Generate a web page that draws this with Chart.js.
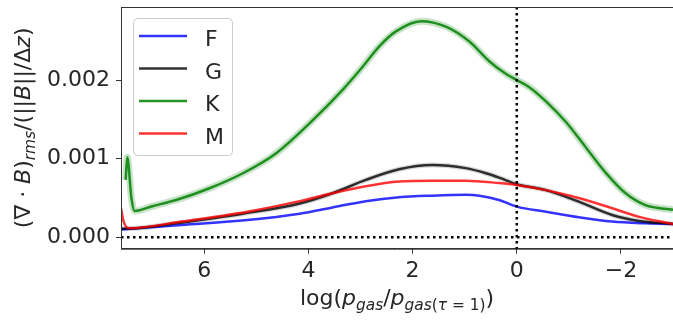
<!DOCTYPE html>
<html>
<head>
<meta charset="utf-8">
<script src="https://cdn.jsdelivr.net/npm/chart.js@4.4.1/dist/chart.umd.min.js"></script>
<style>
  body { margin: 0; background: #fff; }
  #wrap { width: 673px; height: 324px; }
</style>
</head>
<body>
<div id="wrap"><canvas id="myChart"></canvas></div>
<script>
// values (x = log(p_gas / p_gas(tau=1)))
const fX = [7.6, 6.44, 5.17, 4.17, 3.54, 2.90, 2.26, 1.62, 0.98, 0.72, 0.34, 0, -0.56, -1.19, -1.83, -2.47, -3.0];
const fY = [0.0001, 0.000157, 0.00022, 0.0003, 0.00038, 0.00046, 0.00051, 0.00053, 0.00054, 0.00053, 0.000475, 0.00039, 0.000326, 0.000255, 0.0002, 0.000178, 0.00017];

const gX = [7.58, 7.3, 6.54, 5.26, 4.17, 3.54, 2.90, 2.26, 1.62, 0.98, 0.59, 0.34, 0, -0.56, -1.19, -1.83, -2.35, -3.0];
const gY = [0.00011, 0.000115, 0.000178, 0.0003, 0.00043, 0.00056, 0.00073, 0.000866, 0.00092, 0.00088, 0.000815, 0.00076, 0.000675, 0.0006, 0.000453, 0.000284, 0.000208, 0.00017];

const kX = [7.51, 7.48, 7.40, 7.34, 7.0, 6.54, 5.90, 5.26, 4.62, 3.98, 3.34, 2.96, 2.64, 2.32, 1.84, 1.36, 0.91, 0.53, 0.21, 0, -0.24, -0.56, -0.94, -1.32, -1.71, -2.09, -2.47, -3.0];
const kY = [0.00073, 0.00102, 0.0005, 0.000335, 0.000395, 0.000475, 0.000624, 0.000815, 0.00107, 0.00145, 0.00188, 0.00217, 0.00243, 0.00262, 0.00275, 0.00268, 0.00249, 0.00224, 0.00208, 0.002, 0.00191, 0.00173, 0.00147, 0.00115, 0.00082, 0.00056, 0.00041, 0.00035];

const mX = [7.6, 7.55, 7.43, 6.44, 5.17, 4.17, 3.54, 2.90, 2.26, 1.62, 0.98, 0.34, 0, -0.56, -1.19, -1.83, -2.35, -3.0];
const mY = [0.00037, 0.0002, 0.000115, 0.0002, 0.000326, 0.00046, 0.00056, 0.00065, 0.00071, 0.00072, 0.00072, 0.00069, 0.000666, 0.0006, 0.0005, 0.00037, 0.00026, 0.00017];

const xTicks = [6, 4, 2, 0, -2];
const yTicks = [0, 0.001, 0.002];

const FONT = '"DejaVu Sans", sans-serif';
const TXT = '#262626';
const FS = 22;

const pts = (xs, ys) => xs.map((x, i) => ({ x: x, y: ys[i] }));

function line(label, xs, ys, color, order) {
    return {
        label: label, data: pts(xs, ys), borderColor: color, borderWidth: 2.5,
        pointRadius: 0, cubicInterpolationMode: 'monotone', fill: false, order: order
    };
}
function halo(xs, ys, color, w, order) {
    return {
        label: '', data: pts(xs, ys), borderColor: color, borderWidth: w,
        pointRadius: 0, cubicInterpolationMode: 'monotone', fill: false, order: order, halo: true
    };
}

// mixed text with italic / subscript parts (matplotlib mathtext look)
function richWidth(ctx, segs, size) {
    let w = 0;
    segs.forEach(s => {
        ctx.font = (s.it ? 'italic ' : '') + (s.sub ? size * 0.7 : size) + 'px ' + FONT;
        w += ctx.measureText(s.t).width;
    });
    return w;
}
function drawRich(ctx, segs, x, y, size) {
    segs.forEach(s => {
        ctx.font = (s.it ? 'italic ' : '') + (s.sub ? size * 0.7 : size) + 'px ' + FONT;
        ctx.fillText(s.t, x, y + (s.sub ? size * 0.22 : 0));
        x += ctx.measureText(s.t).width;
    });
}

const xTitle = [
    { t: 'log(' }, { t: 'p', it: true }, { t: 'gas', it: true, sub: true }, { t: '/' },
    { t: 'p', it: true }, { t: 'gas', it: true, sub: true }, { t: '(', sub: true },
    { t: 'τ', it: true, sub: true }, { t: ' = 1)', sub: true }, { t: ')' }
];
const yTitle = [
    { t: '(∇ · ' }, { t: 'B', it: true }, { t: ')' }, { t: 'rms', it: true, sub: true },
    { t: '/(||' }, { t: 'B', it: true }, { t: '||/Δ' }, { t: 'z', it: true }, { t: ')' }
];

const decor = {
    id: 'decor',
    afterDatasetsDraw(chart) {
        const { ctx, chartArea: { top, bottom, left, right }, scales: { x, y } } = chart;
        ctx.save();
        ctx.strokeStyle = '#000';
        ctx.lineWidth = 2.5;
        ctx.setLineDash([2.5, 3.5]);
        const y0 = y.getPixelForValue(0);
        const x0 = x.getPixelForValue(0);
        ctx.beginPath();
        ctx.moveTo(left, y0); ctx.lineTo(right, y0);
        ctx.moveTo(x0, top); ctx.lineTo(x0, bottom);
        ctx.stroke();
        ctx.restore();
    },
    afterDraw(chart) {
        const { ctx, chartArea: { top, bottom, left, right } } = chart;
        ctx.save();
        // frame
        ctx.strokeStyle = '#333';
        ctx.lineWidth = 1;
        ctx.strokeRect(left + 0.5, top + 0.5, right - left, bottom - top);

        // legend box
        const bx = 133, by = 18, bw = 99, bh = 137, r = 4;
        ctx.beginPath();
        ctx.roundRect(bx + 0.5, by + 0.5, bw, bh, r);
        ctx.fillStyle = 'rgba(255,255,255,0.8)';
        ctx.fill();
        ctx.strokeStyle = '#cccccc';
        ctx.stroke();
        const items = chart.data.datasets.filter(d => !d.halo);
        items.forEach((d, i) => {
            const ry = by + 18 + i * 32.5;
            ctx.beginPath();
            ctx.strokeStyle = d.borderColor;
            ctx.lineWidth = 2.5;
            ctx.moveTo(bx + 6, ry); ctx.lineTo(bx + 54, ry);
            ctx.stroke();
            ctx.fillStyle = TXT;
            ctx.font = FS + 'px ' + FONT;
            ctx.textBaseline = 'alphabetic';
            ctx.fillText(d.label, bx + 72, ry + 10);
        });

        // axis titles
        ctx.fillStyle = TXT;
        ctx.textBaseline = 'alphabetic';
        const wx = richWidth(ctx, xTitle, FS);
        drawRich(ctx, xTitle, (left + right) / 2 - wx / 2, 305, FS);
        const wy = richWidth(ctx, yTitle, FS);
        ctx.translate(30, (top + bottom) / 2);
        ctx.rotate(-Math.PI / 2);
        drawRich(ctx, yTitle, -wy / 2, 0, FS);
        ctx.restore();
    }
};

const noPad = s => { s.paddingTop = 0; s.paddingBottom = 0; s.paddingLeft = 0; s.paddingRight = 0; };

new Chart(document.getElementById('myChart'), {
    type: 'line',
    data: {
        datasets: [
            line('F', fX, fY, 'rgba(0,0,255,0.8)', 4),
            line('G', gX, gY, 'rgba(0,0,0,0.8)', 3),
            line('K', kX, kY, 'rgba(0,128,0,0.85)', 2),
            line('M', mX, mY, 'rgba(255,0,0,0.8)', 1),
            halo(kX, kY, 'rgba(0,128,0,0.22)', 7, 6),
            halo(gX, gY, 'rgba(0,0,0,0.15)', 5, 7)
        ]
    },
    options: {
        responsive: true,
        maintainAspectRatio: false,
        animation: false,
        layout: { padding: { top: 7, right: 0, left: 0, bottom: 0 } },
        plugins: { legend: { display: false }, tooltip: { enabled: false } },
        scales: {
            x: {
                type: 'linear', reverse: true, min: -3, max: 7.6,
                afterBuildTicks: s => { s.ticks = xTicks.map(v => ({ value: v })); },
                afterFit: s => { s.height = 75.3; noPad(s); },
                ticks: {
                    font: { family: FONT, size: FS }, color: TXT, padding: 4,
                    maxRotation: 0, autoSkip: false,
                    callback: v => v < 0 ? '\u2212' + Math.abs(v) : String(v)
                },
                grid: { display: true, drawOnChartArea: false, drawTicks: true, tickLength: 5, tickColor: '#333' },
                border: { display: true, color: '#333' }
            },
            y: {
                type: 'linear', min: -0.000145, max: 0.00293,
                afterBuildTicks: s => { s.ticks = yTicks.map(v => ({ value: v })); },
                afterFit: s => { s.width = 121; noPad(s); },
                ticks: {
                    font: { family: FONT, size: FS }, color: TXT, padding: 6,
                    callback: v => v.toFixed(3)
                },
                grid: { display: true, drawOnChartArea: false, drawTicks: true, tickLength: 5, tickColor: '#333' },
                border: { display: true, color: '#333' }
            }
        }
    },
    plugins: [decor]
});
</script>
</body>
</html>
